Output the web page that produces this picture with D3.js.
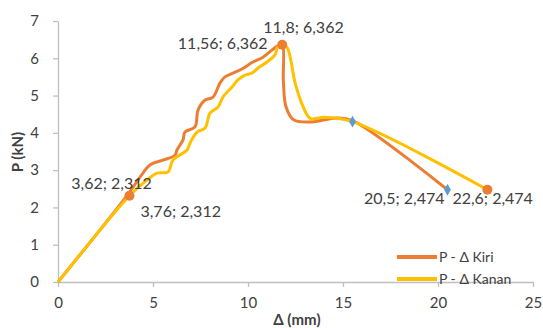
<!DOCTYPE html>
<html>
<head>
<meta charset="utf-8">
<script src="https://cdn.jsdelivr.net/npm/d3@7"></script>
<style>
  body { margin: 0; background: #fff; }
  svg { display: block; font-family: Lato, "Open Sans", sans-serif; }
</style>
</head>
<body>
<svg id="chart" width="543" height="328"></svg>
<script>
// P - Δ Kiri (orange)
const kiriX = [0, 3.62, 4.3, 4.84, 5.53, 6.16, 6.26, 6.58, 6.68, 7.21, 7.37, 7.74, 8.16, 8.53, 8.79, 9.21, 9.7, 10.26, 10.79, 11.26, 11.56, 11.8, 11.86, 12.0, 12.4, 13.26, 14.68, 15.5, 20.5];
const kiriY = [0, 2.312, 2.8, 3.14, 3.27, 3.4, 3.54, 3.81, 4.02, 4.16, 4.61, 4.88, 4.96, 5.34, 5.5, 5.6, 5.72, 5.9, 6.03, 6.22, 6.33, 6.362, 5.4, 4.7, 4.35, 4.29, 4.4, 4.33, 2.474];
// P - Δ Kanan (yellow)
const kananX = [0, 3.76, 4.6, 5.21, 5.79, 6.05, 6.79, 6.95, 7.32, 7.74, 8.0, 8.42, 8.68, 9.16, 9.47, 9.84, 10.2, 10.53, 11.0, 11.42, 11.56, 11.8, 12.05, 12.5, 12.9, 13.3, 14.0, 15.5, 22.6];
const kananY = [0, 2.312, 2.7, 2.92, 2.95, 3.27, 3.54, 3.73, 4.02, 4.13, 4.53, 4.69, 4.96, 5.23, 5.42, 5.55, 5.6, 5.74, 5.9, 6.09, 6.3, 6.362, 6.3, 5.3, 4.7, 4.38, 4.42, 4.3, 2.474];

// markers shown on the chart
const dotX = [3.76, 11.8, 22.6];
const dotY = [2.312, 6.362, 2.474];
const diamondX = [15.5, 20.5];
const diamondY = [4.3, 2.474];

// data labels (Δ; P)
const labelX = [3.62, 3.76, 11.56, 11.8, 20.5, 22.6];
const labelY = [2.312, 2.312, 6.362, 6.362, 2.474, 2.474];

const xTicks = [0, 5, 10, 15, 20, 25];
const yTicks = [0, 1, 2, 3, 4, 5, 6, 7];
const seriesNames = ["P - Δ Kiri", "P - Δ Kanan"];

const ORANGE = "#ED7D31", YELLOW = "#FFC000", BLUE = "#5B9BD5";

const svg = d3.select("#chart");
const x = d3.scaleLinear().domain([0, 25]).range([58, 533]);
const y = d3.scaleLinear().domain([0, 7]).range([282, 21]);

// axes
const xAxis = svg.append("g")
  .attr("transform", "translate(0,282)")
  .call(d3.axisBottom(x).tickValues(xTicks).tickFormat(d3.format("d"))
    .tickSize(5).tickPadding(10).tickSizeOuter(0));
const yAxis = svg.append("g")
  .attr("transform", "translate(58,0)")
  .call(d3.axisLeft(y).tickValues(yTicks).tickFormat(d3.format("d"))
    .tickSize(5).tickPadding(14).tickSizeOuter(0));
[xAxis, yAxis].forEach(g => {
  g.select(".domain").attr("stroke", "#bfbfbf").attr("stroke-width", 1.3);
  g.selectAll(".tick line").attr("stroke", "#bfbfbf").attr("stroke-width", 1.3);
  g.selectAll(".tick text").attr("fill", "#404040").style("font-size", "15px")
    .style("font-family", "Lato, sans-serif");
});

// axis titles
svg.append("text")
  .attr("x", 297).attr("y", 325)
  .attr("text-anchor", "middle")
  .attr("fill", "#404040")
  .style("font-size", "15px").style("font-weight", "bold")
  .text("Δ (mm)");
svg.append("text")
  .attr("transform", "translate(23,152) rotate(-90)")
  .attr("text-anchor", "middle")
  .attr("fill", "#404040")
  .style("font-size", "15px").style("font-weight", "bold")
  .text("P (kN)");

// lines
const line = d3.line()
  .x(d => x(d[0])).y(d => y(d[1]))
  .curve(d3.curveCatmullRom.alpha(0.5));

const kiri = kiriX.map((v, i) => [v, kiriY[i]]);
const kanan = kananX.map((v, i) => [v, kananY[i]]);

svg.append("path").datum(kiri)
  .attr("d", line).attr("fill", "none")
  .attr("stroke", ORANGE).attr("stroke-width", 3).attr("stroke-linejoin", "round");
svg.append("path").datum(kanan)
  .attr("d", line).attr("fill", "none")
  .attr("stroke", YELLOW).attr("stroke-width", 3).attr("stroke-linejoin", "round");

// markers
svg.selectAll(".dot").data(dotX).enter().append("circle")
  .attr("cx", d => x(d)).attr("cy", (d, i) => y(dotY[i]))
  .attr("r", 5).attr("fill", ORANGE);
svg.selectAll(".diamond").data(diamondX).enter().append("path")
  .attr("d", d3.symbol().type(d3.symbolDiamond).size(40))
  .attr("transform", (d, i) => "translate(" + x(d) + "," + y(diamondY[i]) + ")")
  .attr("fill", BLUE);

// data labels
const fmt = v => String(v).replace(".", ",");
const labelOffset = [[25, -7, "end"], [11, 21, "start"], [-10, 4, "end"], [-19, -12, "start"], [-3, 14, "end"], [-35, 14, "start"]];
svg.selectAll(".lbl").data(labelX).enter().append("text")
  .attr("x", (d, i) => x(d) + labelOffset[i][0])
  .attr("y", (d, i) => y(labelY[i]) + labelOffset[i][1])
  .attr("text-anchor", (d, i) => labelOffset[i][2])
  .attr("fill", "#404040")
  .style("font-size", "16px")
  .text((d, i) => fmt(d) + "; " + fmt(labelY[i]));

// legend
const legend = svg.append("g").attr("transform", "translate(397,257)");
[ORANGE, YELLOW].forEach((c, i) => {
  legend.append("line")
    .attr("x1", 0).attr("x2", 40).attr("y1", i * 22).attr("y2", i * 22)
    .attr("stroke", c).attr("stroke-width", 4);
  legend.append("text")
    .attr("x", 42).attr("y", i * 22 + 5)
    .attr("fill", "#404040").style("font-size", "14px")
    .text(seriesNames[i]);
});
</script>
</body>
</html>
